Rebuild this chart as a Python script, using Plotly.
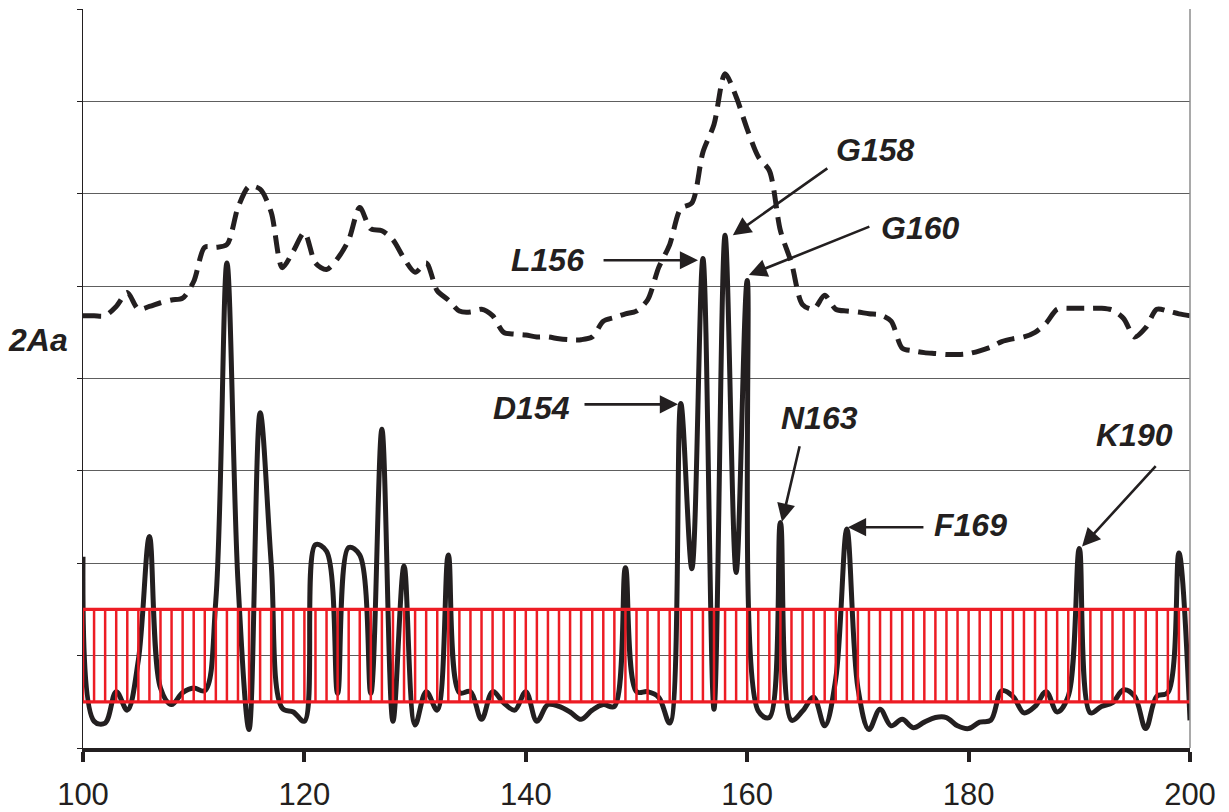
import plotly.graph_objects as go

# ---- data ----
residues = list(range(100, 201))

solid_2Aa = [
    2.07, 0.29, 0.27, 0.61, 0.41, 0.95, 2.29, 0.65, 0.47, 0.60,   # 100-109
    0.65, 0.62, 1.60, 5.25, 1.80, 0.20, 3.63, 2.00, 0.43, 0.39,   # 110-119
    0.29, 2.20, 2.13, 0.59, 2.17, 2.09, 0.59, 3.45, 0.29, 1.97,   # 120-129
    0.25, 0.61, 0.41, 2.09, 0.60, 0.61, 0.31, 0.61, 0.49, 0.41,   # 130-139
    0.61, 0.29, 0.47, 0.45, 0.39, 0.31, 0.41, 0.47, 0.45, 1.95,   # 140-149
    0.61, 0.61, 0.55, 0.27, 3.73, 1.94, 5.30, 0.42, 5.55, 1.90,   # 150-159
    5.06, 0.40, 0.33, 2.44, 0.30, 0.40, 0.55, 0.24, 0.75, 2.37,   # 160-169
    0.65, 0.20, 0.42, 0.24, 0.31, 0.22, 0.28, 0.33, 0.33, 0.24,   # 170-179
    0.21, 0.28, 0.30, 0.62, 0.56, 0.38, 0.45, 0.61, 0.39, 0.56,   # 180-189
    2.16, 0.38, 0.45, 0.49, 0.63, 0.56, 0.21, 0.56, 0.60, 2.11,   # 190-199
    0.30,                                                         # 200
]

dashed_profile = [
    4.68, 4.68, 4.68, 4.78, 4.93, 4.75, 4.78, 4.82, 4.85, 4.87,   # 100-109
    5.05, 5.42, 5.42, 5.45, 5.85, 6.08, 6.05, 5.80, 5.20, 5.38,   # 110-119
    5.58, 5.25, 5.18, 5.30, 5.50, 5.85, 5.62, 5.60, 5.50, 5.30,   # 120-129
    5.15, 5.25, 4.95, 4.85, 4.73, 4.72, 4.75, 4.68, 4.50, 4.48,   # 130-139
    4.47, 4.45, 4.45, 4.43, 4.42, 4.42, 4.45, 4.62, 4.66, 4.70,   # 140-149
    4.73, 4.85, 5.20, 5.45, 5.84, 5.90, 6.45, 6.75, 7.30, 7.05,   # 150-159
    6.70, 6.40, 6.25, 5.60, 5.25, 4.80, 4.75, 4.90, 4.75, 4.73,   # 160-169
    4.72, 4.70, 4.69, 4.62, 4.33, 4.30, 4.28, 4.27, 4.26, 4.26,   # 170-179
    4.27, 4.30, 4.34, 4.40, 4.43, 4.45, 4.50, 4.60, 4.75, 4.76,   # 180-189
    4.76, 4.76, 4.76, 4.74, 4.65, 4.45, 4.55, 4.75, 4.73, 4.70,   # 190-199
    4.68,                                                         # 200
]

band_positions = list(range(100, 201))
band_low = 0.5
band_high = 1.5

label_names = ["D154", "L156", "G158", "G160", "N163", "F169", "K190"]
label_residues = [154, 156, 158, 160, 163, 169, 190]

x_ticks = [100, 120, 140, 160, 180, 200]
y_grid = [0, 1, 2, 3, 4, 5, 6, 7, 8]

# ---- styles ----
INK = "#231f20"
RED = "#ed1c24"
FONT = "Liberation Sans, Arial, sans-serif"

fig = go.Figure()

# dashed profile
fig.add_trace(go.Scatter(
    x=residues, y=dashed_profile, mode="lines",
    line=dict(color=INK, width=5, dash="18px,9px", shape="spline", smoothing=0.8),
    hoverinfo="skip", showlegend=False,
))

# solid 2Aa trace
fig.add_trace(go.Scatter(
    x=residues, y=solid_2Aa, mode="lines",
    line=dict(color=INK, width=5, shape="spline", smoothing=1.0),
    hoverinfo="skip", showlegend=False,
))

# red hatched band: vertical strokes
vx, vy = [], []
for p in band_positions:
    vx += [p, p, None]
    vy += [band_low, band_high, None]
fig.add_trace(go.Scatter(
    x=vx, y=vy, mode="lines", line=dict(color=RED, width=2.5),
    hoverinfo="skip", showlegend=False,
))
# band outline (top/bottom)
hx = [band_positions[0], band_positions[-1], None, band_positions[0], band_positions[-1]]
hy = [band_low, band_low, None, band_high, band_high]
fig.add_trace(go.Scatter(
    x=hx, y=hy, mode="lines", line=dict(color=RED, width=3.2),
    hoverinfo="skip", showlegend=False,
))

# ---- annotations ----
arrow_geom = {
    "D154": dict(dx=-0.25, dy=-0.01, ax=-95, ay=0, tx=140.47, ty=3.68),
    "L156": dict(dx=-0.44, dy=-0.02, ax=-96, ay=0, tx=141.92, ty=5.28),
    "G158": dict(dx=0.70, dy=0.0, ax=96, ay=-68, tx=171.55, ty=6.47),
    "G160": dict(dx=0.15, dy=0.06, ax=122, ay=-49, tx=175.61, ty=5.63),
    "N163": dict(dx=0.14, dy=0.01, ax=18, ay=-77, tx=166.49, ty=3.57),
    "F169": dict(dx=0.10, dy=0.02, ax=77, ay=0, tx=180.13, ty=2.41),
    "K190": dict(dx=0.25, dy=0.02, ax=75, ay=-82, tx=195.03, ty=3.39),
}
annos = []
for name, res in zip(label_names, label_residues):
    g = arrow_geom[name]
    peak_val = solid_2Aa[residues.index(res)]
    annos.append(dict(
        x=res + g["dx"], y=peak_val + g["dy"], xref="x", yref="y",
        ax=g["ax"], ay=g["ay"], axref="pixel", ayref="pixel",
        text="", showarrow=True, arrowhead=2, arrowsize=1.4, arrowwidth=2.6,
        arrowcolor=INK, standoff=0, startstandoff=0,
    ))
    annos.append(dict(
        x=g["tx"], y=g["ty"], xref="x", yref="y", text="<b><i>%s</i></b>" % name,
        showarrow=False, font=dict(family=FONT, size=32, color=INK),
        xanchor="center", yanchor="middle",
    ))

annos.append(dict(
    x=-0.0407, y=4.42, xref="paper", yref="y", text="<b><i>2Aa</i></b>",
    showarrow=False, font=dict(family=FONT, size=32, color=INK),
    xanchor="center", yanchor="middle",
))

fig.update_layout(
    width=1229, height=812,
    margin=dict(l=83, r=39, t=9, b=64, autoexpand=False),
    paper_bgcolor="white", plot_bgcolor="white",
    font=dict(family=FONT, color=INK),
    showlegend=False,
    annotations=annos,
    shapes=[dict(type="line", xref="paper", yref="paper", x0=1, x1=1, y0=0, y1=1,
                 line=dict(color="#8c8c8c", width=1.5))],
    xaxis=dict(
        range=[100, 200], tickvals=x_ticks, ticktext=[str(t) for t in x_ticks],
        showgrid=False, zeroline=False, automargin=False,
        showline=True, linecolor=INK, linewidth=4,
        ticks="outside", ticklen=10, tickwidth=4, tickcolor=INK,
        tickfont=dict(family=FONT, size=31, color=INK),
        ticklabelstandoff=6,
    ),
    yaxis=dict(
        range=[0, 8], tickvals=y_grid, showticklabels=False, automargin=False,
        showgrid=True, gridcolor="#5e5e5e", gridwidth=1,
        zeroline=False, showline=True, linecolor=INK, linewidth=1,
        ticks="outside", ticklen=5, tickwidth=1, tickcolor=INK,
    ),
)

fig.write_html("out.html", config={"displayModeBar": False},
               post_script="document.body.style.margin='0';")
